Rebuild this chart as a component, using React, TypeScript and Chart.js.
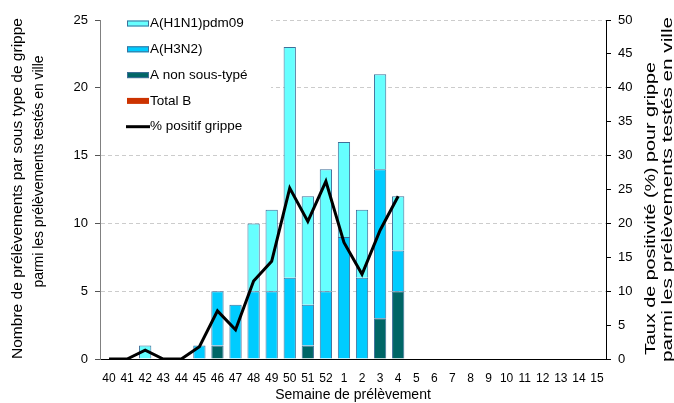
import React, { useEffect, useRef } from "react";
import { Chart, registerables } from "chart.js";

Chart.register(...registerables);

const weeks = ["40","41","42","43","44","45","46","47","48","49","50","51","52","1","2","3","4","5","6","7","8","9","10","11","12","13","14","15"];
const h1n1 = [0,0,1,0,0,0,0,0,5,6,17,8,9,7,5,7,4,0,0,0,0,0,0,0,0,0,0,0];
const h3n2 = [0,0,0,0,0,1,4,4,5,5,6,3,5,9,6,11,3,0,0,0,0,0,0,0,0,0,0,0];
const nonType = [0,0,0,0,0,0,1,0,0,0,0,1,0,0,0,3,5,0,0,0,0,0,0,0,0,0,0,0];
const totalB = [0,0,0,0,0,0,0,0,0,0,0,0,0,0,0,0,0,0,0,0,0,0,0,0,0,0,0,0];
const pctPos: (number | null)[] = [0,0,1.3,0,0,1.8,7.1,4.3,11.5,14.4,25.2,20.3,26.2,17.2,12.5,19.0,24.0,null,null,null,null,null,null,null,null,null,null,null];

const xTitle = "Semaine de prélèvement";
const yTitleLines = ["Nombre de prélèvements par sous type de grippe", "parmi les prélèvements testés en ville"];
const y1TitleLines = ["Taux de positivité (%) pour grippe", "parmi les prélèvements testés en ville"];

const legendItems = [
  { label: "A(H1N1)pdm09", color: "#66FFFF", type: "box" },
  { label: "A(H3N2)", color: "#00CCFF", type: "box" },
  { label: "A non sous-typé", color: "#006666", type: "box" },
  { label: "Total B", color: "#CC3300", type: "box" },
  { label: "% positif grippe", color: "#000000", type: "line" },
];

const FONT = "'Liberation Sans', Arial, sans-serif";

// draws rotated (-90°) text, with glyphs spread so the line spans `length` px
function drawVertical(ctx: CanvasRenderingContext2D, text: string, cx: number, cy: number, length: number) {
  const natural = ctx.measureText(text).width;
  const s = length / natural;
  ctx.save();
  ctx.translate(cx, cy);
  ctx.rotate(-Math.PI / 2);
  ctx.scale(s, 1);
  ctx.textAlign = "center";
  ctx.textBaseline = "middle";
  ctx.fillText(text, 0, 0);
  ctx.restore();
}

const decorPlugin = {
  id: "decor",
  afterDatasetsDraw(chart: any) {
    const ctx = chart.ctx;
    ctx.save();
    ctx.fillStyle = "#ffffff";
    ctx.fillRect(101, 0, 170, 140);
    ctx.font = `13.5px ${FONT}`;
    ctx.textBaseline = "middle";
    legendItems.forEach((it, i) => {
      const cy = 23.5 + i * 25.8;
      if (it.type === "box") {
        ctx.fillStyle = it.color;
        ctx.fillRect(127, cy - 3, 22, 6);
        if (it.label !== "Total B") {
          ctx.strokeStyle = "#3F6F99";
          ctx.lineWidth = 1;
          ctx.strokeRect(127.5, cy - 2.5, 21, 5);
        }
      } else {
        ctx.strokeStyle = it.color;
        ctx.lineWidth = 3;
        ctx.beginPath();
        ctx.moveTo(126, cy);
        ctx.lineTo(150, cy);
        ctx.stroke();
      }
      ctx.fillStyle = "#000";
      ctx.fillText(it.label, 150, cy);
    });

    // axis titles
    ctx.fillStyle = "#000";
    ctx.font = `14px ${FONT}`;
    ctx.textAlign = "center";
    ctx.textBaseline = "middle";
    const area = chart.chartArea;
    ctx.fillText(xTitle, (area.left + area.right) / 2, 395);
    drawVertical(ctx, yTitleLines[0], 18, 188.5, 341);
    ctx.font = `14px ${FONT}`;
    drawVertical(ctx, yTitleLines[1], 39.5, 171.5, 232);
    drawVertical(ctx, y1TitleLines[0], 651.5, 208.5, 293);
    drawVertical(ctx, y1TitleLines[1], 668.5, 189.5, 345);
    ctx.restore();
  },
};

export default function App() {
  const ref = useRef<HTMLCanvasElement>(null);
  useEffect(() => {
    const barCommon = { borderColor: "#3F6F99", borderWidth: 1, barPercentage: 0.68, categoryPercentage: 1, yAxisID: "y", stack: "s" };
    const chart = new Chart(ref.current!, {
      type: "bar",
      data: {
        labels: weeks,
        datasets: [
          { type: "line", label: "% positif grippe", data: pctPos, borderColor: "#000", borderWidth: 3, pointRadius: 0, yAxisID: "y1", order: 0, tension: 0 } as any,
          { label: "A non sous-typé", data: nonType, backgroundColor: "#006666", ...barCommon, order: 1 },
          { label: "A(H3N2)", data: h3n2, backgroundColor: "#00CCFF", ...barCommon, order: 1 },
          { label: "A(H1N1)pdm09", data: h1n1, backgroundColor: "#66FFFF", ...barCommon, order: 1 },
          { label: "Total B", data: totalB, backgroundColor: "#CC3300", ...barCommon, borderWidth: 0, order: 1 },
        ],
      },
      options: {
        animation: false,
        responsive: false,
        layout: { padding: { top: 20, left: 0, right: 0, bottom: 0 } },
        plugins: { legend: { display: false }, tooltip: { enabled: false } },
        scales: {
          x: {
            stacked: true,
            grid: { display: false, drawTicks: false },
            border: { color: "#000", width: 1 },
            ticks: { font: { size: 12, family: FONT }, color: "#000", maxRotation: 0, autoSkip: false, padding: 12 },
            title: { display: false },
            afterFit(s: any) { s.height = 44; },
          },
          y: {
            stacked: true,
            position: "left",
            min: 0,
            max: 25,
            ticks: { stepSize: 5, font: { size: 13, family: FONT }, color: "#000", padding: 7 },
            grid: {
              color: (c: any) => (c.tick && c.tick.value === 0 ? "rgba(0,0,0,0)" : "#CCCCCC"),
              tickColor: "#555",
              tickLength: 5,
              lineWidth: 1,
            },
            border: { color: "#808080", dash: [4, 3] },
            title: { display: false },
            afterFit(s: any) { s.width = 100; },
          },
          y1: {
            position: "right",
            min: 0,
            max: 50,
            ticks: { stepSize: 5, font: { size: 13, family: FONT }, color: "#000", padding: 7 },
            grid: { drawOnChartArea: false, tickColor: "#000", tickLength: 5 },
            border: { color: "#000" },
            title: { display: false },
            afterFit(s: any) { s.width = 68; },
          },
        },
      } as any,
      plugins: [decorPlugin],
    });
    return () => chart.destroy();
  }, []);
  return (
    <div style={{ position: "fixed", left: 0, top: 0, width: 674, height: 403, background: "#fff" }}>
      <canvas ref={ref} width={674} height={403} style={{ width: 674, height: 403 }} />
    </div>
  );
}
